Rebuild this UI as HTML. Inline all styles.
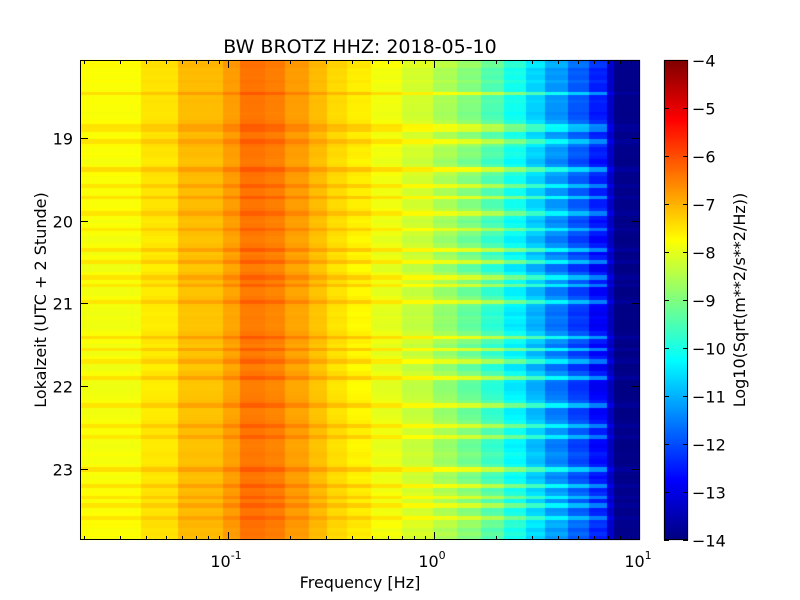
<!DOCTYPE html>
<html><head><meta charset="utf-8"><style>
body{margin:0;background:#fff;}
#wrap{position:relative;width:800px;height:600px;background:#fff;}
canvas,svg{position:absolute;left:0;top:0;}
text{font-family:"DejaVu Sans","Liberation Sans",sans-serif;fill:#000;}
</style></head><body>
<div id="wrap">
<canvas id="hm" width="800" height="600"></canvas>
<canvas id="cb" width="800" height="600"></canvas>
<svg id="ax" width="800" height="600"></svg>
</div>
<script>
// ---- data ----
const binWidthHz = 0.0191;
const bandUpperHz = [0.039,0.058,0.096,0.115,0.16,0.2,0.25,0.3,0.38,0.5,0.7,1.0,1.3,1.7,2.2,2.8,3.5,4.5,5.7,7.0,7.5,10.1];
const bandLevels  = [-7.8,-7.5,-7.1,-6.8,-6.4,-6.5,-6.8,-7.1,-7.4,-7.6,-7.9,-8.2,-8.6,-9.0,-9.5,-10.1,-10.7,-11.3,-11.9,-12.5,-13.3,-13.9];
const bandSens    = [0.3,0.25,0.25,0.25,0.25,0.25,0.25,0.25,0.3,0.35,0.4,0.5,0.7,0.9,1,1,1,1,1,1,0.3,0.15];
const rowAnomaly = [0.2,0.3,0,0.1,0,0.2,0,0,1.2,0,0.1,0,0,-0.1,0,0.2,1.1,1.0,0,0.1,1.1,0.3,0,0.1,0,-0.2,0,
1.3,0.2,0,0,1.0,0,0,1.1,0,0,0.2,1.0,0,-0.2,0,0.9,0,-0.3,-0.3,0,1.1,-0.3,0,1.0,-0.4,-0.4,0,1.0,0,0.9,-0.3,-0.3,0,
1.0,-0.2,-0.3,-0.4,-0.2,-0.3,-0.4,-0.3,0,1.2,0,-0.3,1.0,-0.3,0,0.9,-0.4,-0.4,0,1.1,-0.3,-0.4,-0.4,-0.3,-0.2,0,
1.0,-0.3,-0.3,-0.2,0,1.0,0,0,0.9,-0.2,-0.3,-0.2,0,-0.1,-0.2,0,1.2,0,-0.2,0,1.1,0,0.2,1.0,0,1.0,0,0.1,1.0,0.2,0.3,0,0.2,0];
const timeStartH = 18.06, timeEndH = 23.86;
const xTickExps = [-1,0,1];
const yTicks = [19,20,21,22,23];
const cbTicks = [-4,-5,-6,-7,-8,-9,-10,-11,-12,-13,-14];
const vmin=-14, vmax=-4;

// ---- axes ----
const L=80,R=640,T=60,B=540;
const X = f => 434 + 206*Math.log10(f);
const Y = h => T + (h-timeStartH)/(timeEndH-timeStartH)*(B-T);
function jet(v){
  let t=(v-vmin)/(vmax-vmin); t=Math.max(0,Math.min(1,t));
  const c=x=>Math.max(0,Math.min(1,x));
  const r=c(1.5-Math.abs(4*t-3)), g=c(1.5-Math.abs(4*t-2)), b=c(1.5-Math.abs(4*t-1));
  return `rgb(${Math.round(r*255)},${Math.round(g*255)},${Math.round(b*255)})`;
}
function band(f){ for(let i=0;i<bandUpperHz.length;i++) if(f<=bandUpperHz[i]) return i; return bandUpperHz.length-1; }

const ctx=document.getElementById('hm').getContext('2d');
ctx.save(); ctx.beginPath(); ctx.rect(L,T,R-L,B-T); ctx.clip();
const nRows=rowAnomaly.length, dh=(timeEndH-timeStartH)/nRows;
for(let k=0;;k++){
  const f0=(k+1)*binWidthHz, f1=(k+2)*binWidthHz;
  if(f0>10.5) break;
  const x0=k===0?L:X(f0), x1=X(f1);
  if(x1<L) continue;
  const bi=band((f0+f1)/2);
  for(let i=0;i<nRows;i++){
    const y0=Y(timeStartH+i*dh), y1=Y(timeStartH+(i+1)*dh);
    ctx.fillStyle=jet(bandLevels[bi]+rowAnomaly[i]*bandSens[bi]);
    ctx.fillRect(Math.floor(x0),Math.floor(y0),Math.ceil(x1)-Math.floor(x0)+1,Math.ceil(y1)-Math.floor(y0)+1);
  }
}
ctx.restore();

// colorbar
const CL=664,CR=688;
const CY=v=>T+(vmax-v)/(vmax-vmin)*(B-T);
const cctx=document.getElementById('cb').getContext('2d');
for(let y=T;y<B;y++){ cctx.fillStyle=jet(vmax-(y-T+0.5)/(B-T)*(vmax-vmin)); cctx.fillRect(CL,y,CR-CL,1); }

const svg=document.getElementById('ax'); const NS='http://www.w3.org/2000/svg';
function mk(tag,attrs,parent){const e=document.createElementNS(NS,tag);for(const k in attrs)e.setAttribute(k,attrs[k]);(parent||svg).appendChild(e);return e;}
function line(x1,y1,x2,y2){return mk('line',{x1,y1,x2,y2,stroke:'#000','stroke-width':1});}
const frame=mk('rect',{x:L+0.5,y:T+0.5,width:R-L-1,height:B-T-1,fill:'none',stroke:'#000'});


const cframe=mk('rect',{x:CL+0.5,y:T+0.5,width:CR-CL-1,height:B-T-1,fill:'none',stroke:'#000'});



for(let e=-2;e<=1;e++){for(let m=1;m<10;m++){
  const f=m*Math.pow(10,e); const x=Math.round(X(f))+0.5; if(x<L||x>R) continue;
  const len=m===1?8:4; line(x,B,x,B-len); line(x,T,x,T+len);
}}
xTickExps.forEach(e=>{
  const t=mk('text',{x:X(Math.pow(10,e))-2,y:567,'font-size':16,'text-anchor':'middle'});
  
  
  t.appendChild(document.createTextNode('10'));
  const s=mk('tspan',{dy:-8,'font-size':11},t); s.textContent=String(e);
});
yTicks.forEach(h=>{
  const y=Math.round(Y(h))+0.5; line(L,y,L+8,y); line(R,y,R-8,y);
  const t=mk('text',{x:73,y:y+6,'font-size':16,'text-anchor':'end'});
  
  
  t.textContent=h;
});
cbTicks.forEach(v=>{
  const y=Math.round(CY(v))+0.5; line(CL,y,CL+5,y); line(CR,y,CR-5,y);
  const t=mk('text',{x:692,y:y+6,'font-size':16});
  
  
  t.textContent=String(v).replace('-','\u2212');
});
const title=mk('text',{x:360,y:53,'font-size':19,'text-anchor':'middle'});


title.textContent='BW BROTZ HHZ: 2018-05-10';
const xl=mk('text',{x:360,y:588,'font-size':16,'text-anchor':'middle'});


xl.textContent='Frequency [Hz]';
const yl=mk('text',{x:0,y:0,'font-size':16,'text-anchor':'middle',transform:'translate(46,300) rotate(-90)'});


yl.textContent='Lokalzeit (UTC + 2 Stunde)';
const cl=mk('text',{x:0,y:0,'font-size':16,'text-anchor':'middle',transform:'translate(745,300) rotate(-90)'});


cl.textContent='Log10(Sqrt(m**2/s**2/Hz))';
</script>
</body></html>
